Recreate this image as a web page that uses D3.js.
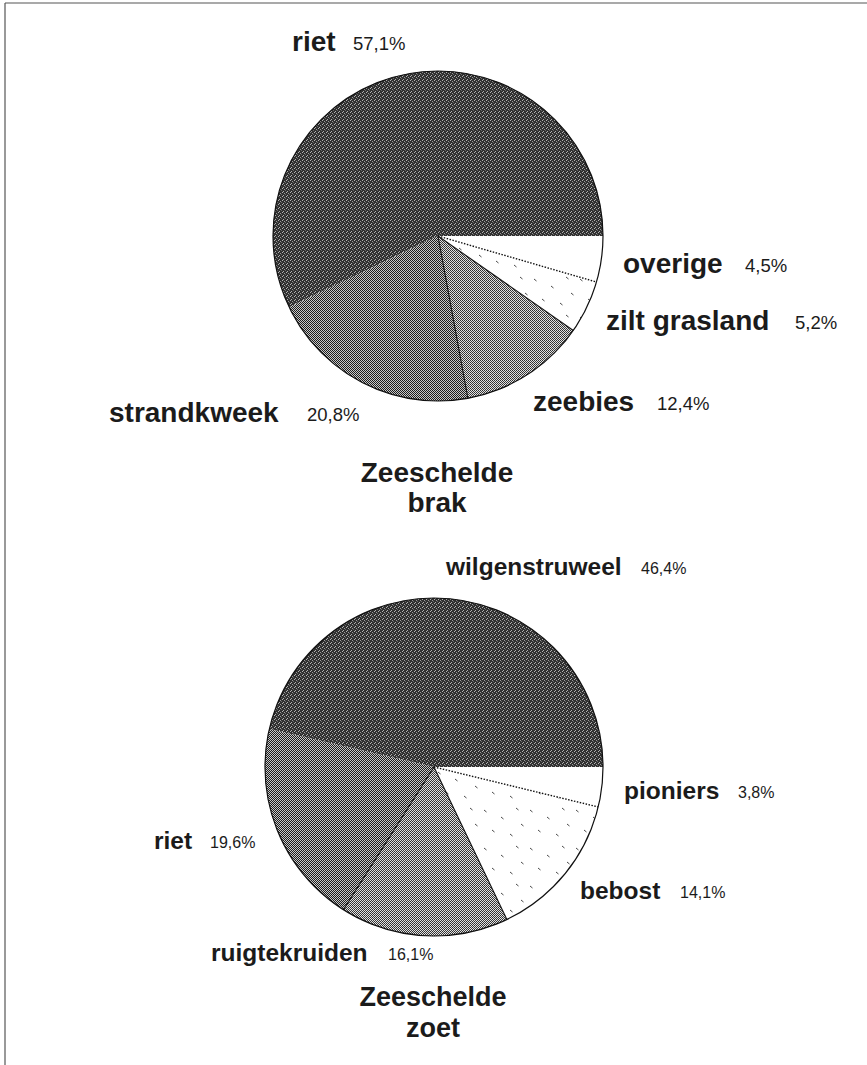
<!DOCTYPE html>
<html>
<head>
<meta charset="utf-8">
<script src="https://cdn.jsdelivr.net/npm/d3@7"></script>
<style>
  html, body { margin: 0; padding: 0; background: #fff; }
  svg { display: block; }
  text { font-family: "Liberation Sans", Arial, Helvetica, sans-serif; }
</style>
</head>
<body>
<script>
// ---------------- DATA ----------------
const brakCategories = ["riet", "strandkweek", "zeebies", "zilt grasland", "overige"];
const brakValues     = [57.1, 20.8, 12.4, 5.2, 4.5];
const brakTitle      = ["Zeeschelde", "brak"];

const zoetCategories = ["wilgenstruweel", "riet", "ruigtekruiden", "bebost", "pioniers"];
const zoetValues     = [46.4, 19.6, 16.1, 14.1, 3.8];
const zoetTitle      = ["Zeeschelde", "zoet"];

// ---------------- LAYOUT / STYLE ----------------
const W = 867, H = 1065;
const fillKeys = ["dark", "medium", "light", "dashes", "white"];

const charts = [
  { cats: brakCategories, vals: brakValues, title: brakTitle,
    cx: 438, cy: 236, r: 165,
    labelSize: 28, pctSize: 18.5, titleSize: 28,
    titleX: 437, titleY: [482, 512],
    labels: [ {x: 292, y: 51, px: 353}, {x: 109, y: 422, px: 307},
              {x: 533, y: 411, px: 657}, {x: 606, y: 330, px: 795},
              {x: 623, y: 273, px: 745} ] },
  { cats: zoetCategories, vals: zoetValues, title: zoetTitle,
    cx: 434, cy: 767, r: 169,
    labelSize: 24.5, pctSize: 16, titleSize: 27,
    titleX: 433, titleY: [1006, 1037],
    labels: [ {x: 446, y: 575, px: 641}, {x: 154, y: 849, px: 210},
              {x: 211, y: 961, px: 388}, {x: 580, y: 899, px: 680},
              {x: 624, y: 799, px: 738} ] }
];

const fmt = v => d3.format(".1f")(v).replace(".", ",") + "%";

const svg = d3.select("body").append("svg")
  .attr("width", W).attr("height", H);

// patterns (halftone look of the scanned original)
const defs = svg.append("defs");
function pixelPattern(id, size, bg, pixels) {
  const p = defs.append("pattern").attr("id", id)
    .attr("patternUnits", "userSpaceOnUse")
    .attr("width", size).attr("height", size);
  p.append("rect").attr("width", size).attr("height", size).attr("fill", bg);
  pixels.forEach(([x, y, c]) => p.append("rect").attr("x", x).attr("y", y)
    .attr("width", 1).attr("height", 1).attr("fill", c));
}
pixelPattern("dark", 4, "#303030",
  [[0,0,"#b4b4b4"],[2,1,"#9a9a9a"],[1,3,"#b0b0b0"],[3,2,"#6a6a6a"]]);
pixelPattern("medium", 2, "#c8c8c8", [[0,0,"#1c1c1c"],[1,1,"#1c1c1c"]]);
pixelPattern("light", 2, "#e2e2e2", [[0,0,"#2e2e2e"],[1,1,"#3e3e3e"]]);
(function () {
  const p = defs.append("pattern").attr("id", "dashes")
    .attr("patternUnits", "userSpaceOnUse").attr("width", 46).attr("height", 38);
  p.append("rect").attr("width", 46).attr("height", 38).attr("fill", "#fff");
  [[4,5],[21,12],[36,3],[12,25],[30,29],[41,19]].forEach(([x, y]) => {
    p.append("line").attr("x1", x).attr("y1", y).attr("x2", x + 2.5).attr("y2", y + 2)
      .attr("stroke", "#333").attr("stroke-width", 0.9);
  });
})();
const fills = { dark: "url(#dark)", medium: "url(#medium)", light: "url(#light)",
                dashes: "url(#dashes)", white: "#ffffff" };

// frame
svg.append("line").attr("x1", 5).attr("y1", 3).attr("x2", W).attr("y2", 3)
  .attr("stroke", "#555").attr("stroke-width", 1.2);
svg.append("line").attr("x1", 5).attr("y1", 3).attr("x2", 5).attr("y2", H)
  .attr("stroke", "#555").attr("stroke-width", 1.2);

charts.forEach(ch => {
  const data = ch.cats.map((c, i) => ({ cat: c, val: ch.vals[i], key: fillKeys[i] }));
  // start at 3 o'clock, run counter-clockwise
  const pie = d3.pie().sort(null).value(d => d.val)
    .startAngle(Math.PI / 2).endAngle(Math.PI / 2 - 2 * Math.PI);
  const arcs = pie(data);
  const arc = d3.arc().innerRadius(0).outerRadius(ch.r);
  const g = svg.append("g").attr("transform", `translate(${ch.cx},${ch.cy})`);

  g.selectAll("path.slice").data(arcs).join("path")
    .attr("class", "slice")
    .attr("d", arc)
    .attr("fill", d => fills[d.data.key])
    .attr("stroke", "none");

  // radial boundaries
  const pt = a => [ch.r * Math.sin(a), -ch.r * Math.cos(a)];
  arcs.forEach((d, i) => {
    const prev = arcs[(i - 1 + arcs.length) % arcs.length];
    const keys = [prev.data.key, d.data.key];
    if (keys.includes("dark") && (keys.includes("medium") || keys.includes("white"))) return;
    const [x, y] = pt(d.startAngle);
    const dotted = keys.includes("white") && keys.includes("dashes");
    g.append("line").attr("x1", 0).attr("y1", 0).attr("x2", x).attr("y2", y)
      .attr("stroke", "#111").attr("stroke-width", dotted ? 1.4 : 1.1)
      .attr("stroke-dasharray", dotted ? "1.5,1.5" : null);
  });
  // outline
  g.append("circle").attr("r", ch.r).attr("fill", "none")
    .attr("stroke", "#111").attr("stroke-width", 1.2);

  // labels
  arcs.forEach((d, i) => {
    const L = ch.labels[i];
    svg.append("text").attr("x", L.x).attr("y", L.y)
      .attr("font-size", ch.labelSize).attr("font-weight", "bold")
      .attr("fill", "#1b1b1b").text(d.data.cat);
    svg.append("text").attr("x", L.px).attr("y", L.y - 1)
      .attr("font-size", ch.pctSize).attr("fill", "#1b1b1b")
      .text(fmt(d.data.val));
  });
  ch.title.forEach((t, i) => {
    svg.append("text").attr("x", ch.titleX).attr("y", ch.titleY[i])
      .attr("text-anchor", "middle").attr("font-size", ch.titleSize)
      .attr("font-weight", "bold").attr("fill", "#1b1b1b").text(t);
  });
});
</script>
</body>
</html>
